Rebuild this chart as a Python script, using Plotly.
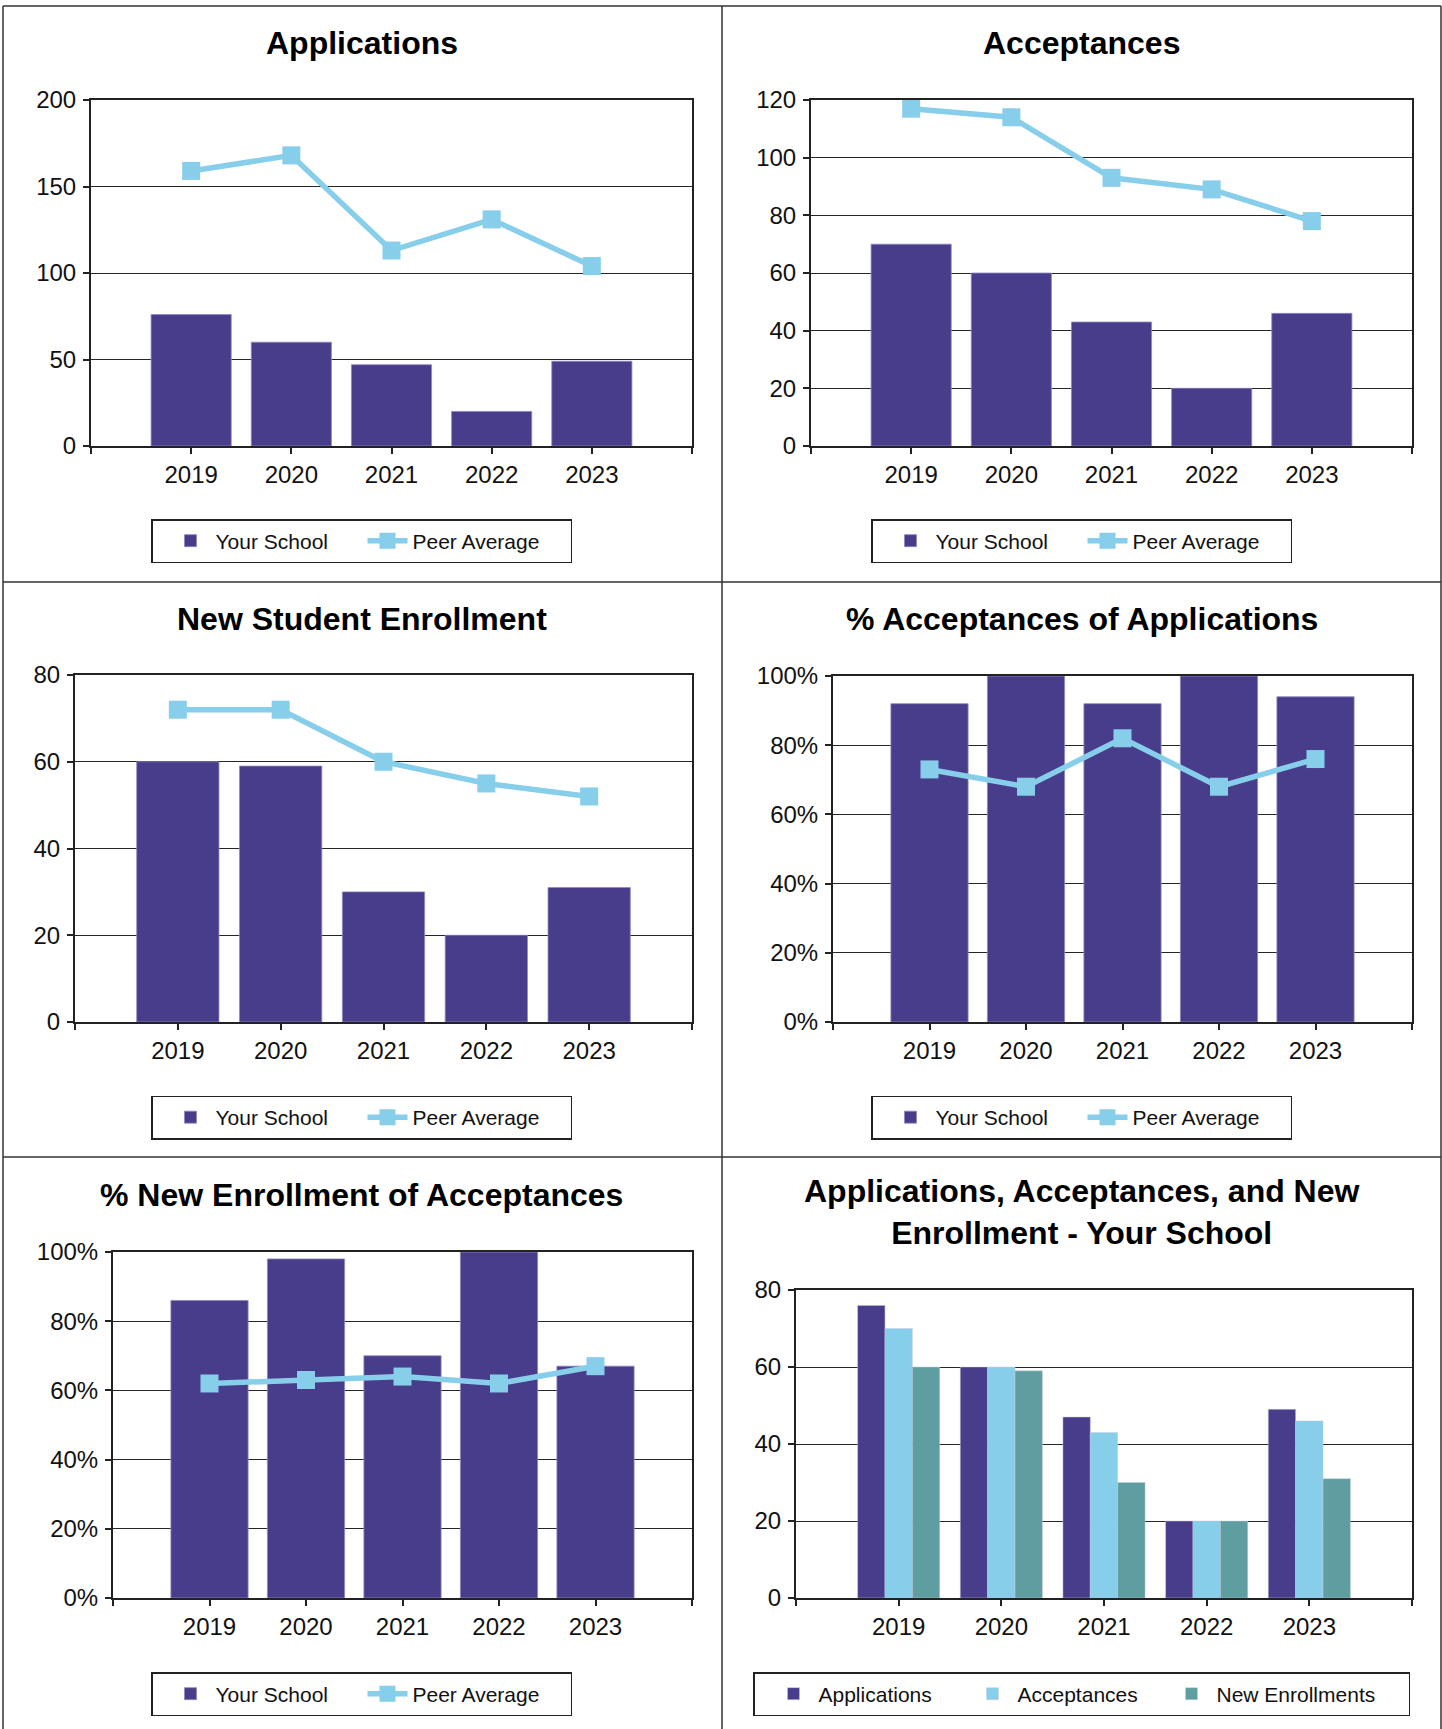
import plotly.graph_objects as go

W, H = 1442, 1729
FONT = "Liberation Sans, Arial, sans-serif"

# ---------------- data ----------------
years = [2019, 2020, 2021, 2022, 2023]
year_labels = ["2019", "2020", "2021", "2022", "2023"]

applications_school = [76, 60, 47, 20, 49]
applications_peer = [159, 168, 113, 131, 104]

acceptances_school = [70, 60, 43, 20, 46]
acceptances_peer = [117, 114, 93, 89, 78]

enrollment_school = [60, 59, 30, 20, 31]
enrollment_peer = [72, 72, 60, 55, 52]

pct_accept_school = [92, 100, 92, 100, 94]
pct_accept_peer = [73, 68, 82, 68, 76]

pct_enroll_school = [86, 98, 70, 100, 67]
pct_enroll_peer = [62, 63, 64, 62, 67]

titles = [
    "Applications",
    "Acceptances",
    "New Student Enrollment",
    "% Acceptances of Applications",
    "% New Enrollment of Acceptances",
    "Applications, Acceptances, and New<br>Enrollment - Your School",
]

# ---------------- styles ----------------
C_SCHOOL = "#483D8B"
C_PEER = "#87CEEB"
C_ENROLL = "#5F9EA0"

# panel layout in pixels: plot box (x0, y0, x1, y1), title centre y, legend centre y, panel centre x
panels = [
    dict(plot=(91, 100, 692, 446), ty=43, ly=541, cx=361.5),
    dict(plot=(811, 100, 1412, 446), ty=43, ly=541, cx=1081.5),
    dict(plot=(75, 675, 692, 1022), ty=619, ly=1117.5, cx=361.5),
    dict(plot=(833, 676, 1412, 1022), ty=619, ly=1117.5, cx=1081.5),
    dict(plot=(113, 1252, 692, 1598), ty=1195, ly=1694, cx=361.5),
    dict(plot=(796, 1290, 1412, 1598), ty=1212, ly=1694, cx=1081.5),
]

yaxes_cfg = [
    dict(range=[0, 200], dtick=50, suffix=""),
    dict(range=[0, 120], dtick=20, suffix=""),
    dict(range=[0, 80], dtick=20, suffix=""),
    dict(range=[0, 100], dtick=20, suffix="%"),
    dict(range=[0, 100], dtick=20, suffix="%"),
    dict(range=[0, 80], dtick=20, suffix=""),
]

pair_data = [
    (applications_school, applications_peer),
    (acceptances_school, acceptances_peer),
    (enrollment_school, enrollment_peer),
    (pct_accept_school, pct_accept_peer),
    (pct_enroll_school, pct_enroll_peer),
]

fig = go.Figure()


def ax_id(i):
    return "" if i == 0 else str(i + 1)


for i, (school, peer) in enumerate(pair_data):
    k = ax_id(i)
    lg = "legend" + k
    fig.add_trace(go.Bar(
        x=years, y=school, name="Your School",
        marker=dict(color=C_SCHOOL, line=dict(color="#8e88c0", width=0.8)),
        xaxis="x" + k, yaxis="y" + k, legend=lg, legendwidth=129,
    ))
    fig.add_trace(go.Scatter(
        x=years, y=peer, name="Peer Average", mode="lines+markers",
        line=dict(color=C_PEER, width=5.5),
        marker=dict(symbol="square", size=18, color=C_PEER),
        xaxis="x" + k, yaxis="y" + k, legend=lg, legendwidth=153,
    ))

# panel 6: grouped bars for your school
k6 = ax_id(5)
for name, vals, col, lw in [
    ("Applications", applications_school, C_SCHOOL, 130),
    ("Acceptances", acceptances_school, C_PEER, 130),
    ("New Enrollments", enrollment_school, C_ENROLL, 187),
]:
    fig.add_trace(go.Bar(
        x=years, y=vals, name=name,
        marker=dict(color=col, line=dict(color="rgba(200,200,225,0.6)", width=0.8)),
        xaxis="x" + k6, yaxis="y" + k6, legend="legend" + k6, legendwidth=lw,
    ))

layout = dict(
    width=W, height=H, autosize=False,
    margin=dict(l=0, r=0, t=0, b=0, pad=0, autoexpand=False),
    paper_bgcolor="white", plot_bgcolor="white",
    barmode="group", bargap=0.2, bargroupgap=0.0,
    font=dict(family=FONT, color="#111111"),
    annotations=[], shapes=[],
)

tickvals = [years[0] - 1] + years + [years[-1] + 1]
ticktext = [""] + year_labels + [""]

for i, p in enumerate(panels):
    k = ax_id(i)
    x0, y0, x1, y1 = p["plot"]
    yc = yaxes_cfg[i]
    layout["xaxis" + k] = dict(
        domain=[x0 / W, x1 / W], anchor="y" + k,
        range=[years[0] - 1, years[-1] + 1],
        tickmode="array", tickvals=tickvals, ticktext=ticktext,
        ticks="outside", ticklen=6, tickwidth=1.5, tickcolor="#222",
        showline=True, linecolor="#222", linewidth=2, mirror=True,
        showgrid=False, zeroline=False, automargin=False,
        tickfont=dict(size=24, family=FONT, color="#111"),
        ticklabelstandoff=0, fixedrange=True,
    )
    layout["yaxis" + k] = dict(
        domain=[1 - y1 / H, 1 - y0 / H], anchor="x" + k,
        range=yc["range"], dtick=yc["dtick"], tick0=0, ticksuffix=yc["suffix"],
        ticks="outside", ticklen=6, tickwidth=1.5, tickcolor="#222",
        showline=True, linecolor="#222", linewidth=2, mirror=True,
        showgrid=True, gridcolor="#262626", gridwidth=1.4, zeroline=False,
        automargin=False,
        tickfont=dict(size=24, family=FONT, color="#111"),
        ticklabelstandoff=2, fixedrange=True,
    )
    layout["legend" + k] = dict(
        x=p["cx"] / W, y=1 - p["ly"] / H, xanchor="center", yanchor="middle",
        orientation="h", bgcolor="white", bordercolor="#222", borderwidth=1.5,
        font=dict(size=21, family=FONT, color="#111"),
        itemwidth=40, indentation=(14 if i == 5 else 13),
        traceorder="normal", itemclick=False, itemdoubleclick=False,
    )
    layout["annotations"].append(dict(
        text=titles[i], x=p["cx"] / W, y=1 - p["ty"] / H, xref="paper", yref="paper",
        xanchor="center", yanchor="middle", showarrow=False,
        font=dict(size=32, family=FONT, color="#000", weight="bold"),
    ))

# panel borders
border = dict(type="line", xref="paper", yref="paper", line=dict(color="#333", width=1.5))
for xv in [3, 722, 1441]:
    layout["shapes"].append(dict(border, x0=xv / W, x1=xv / W, y0=1 - 6 / H, y1=0))
for yv in [6, 582, 1157]:
    layout["shapes"].append(dict(border, x0=3 / W, x1=1441 / W, y0=1 - yv / H, y1=1 - yv / H))

fig.update_layout(**layout)

page_fix = (
    "document.documentElement.style.margin='0';"
    "document.body.style.margin='0';document.body.style.padding='0';"
    "var gd=document.getElementById('{plot_id}');"
    "gd.style.position='absolute';gd.style.top='0px';gd.style.left='0px';"
    "document.body.style.overflow='hidden';document.documentElement.style.overflow='hidden';"
)
fig.write_html(
    "out.html",
    config={"displayModeBar": False, "responsive": False},
    post_script=page_fix,
)
